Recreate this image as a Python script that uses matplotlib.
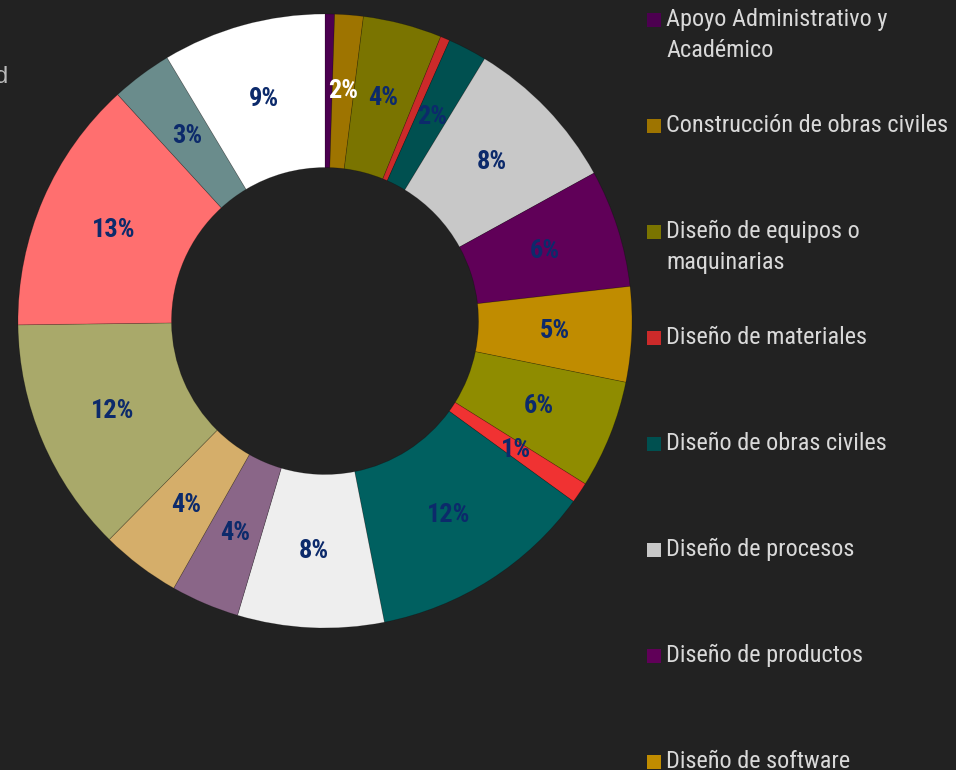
import matplotlib
matplotlib.use("Agg")
import matplotlib.pyplot as plt
from matplotlib.patches import Rectangle

BG = "#222222"
TXT = "#d9d9d9"
NAVY = "#0c2a6b"
NARROW = "Roboto Condensed"

# share of each slice (%), clockwise from 12 o'clock
shares = [0.5, 1.5, 4.15, 0.5, 2.05, 8.3, 6.2, 5.0, 5.7, 1.1,
          11.9, 7.7, 3.6, 4.2, 12.4, 13.4, 3.2, 8.6]
colors = ["#4c0050", "#9e7400", "#7a7400", "#cc2a2a", "#005050", "#c8c8c8",
          "#600058", "#c08c00", "#8f8c00", "#f03232", "#006060", "#eeeeee",
          "#8a6688", "#d5ae6a", "#a9a96a", "#ff6f6f", "#6a8c8c", "#ffffff"]
# only the first legend entries are visible in the frame
legend_labels = ["Apoyo Administrativo y\nAcadémico",
                 "Construcción de obras civiles",
                 "Diseño de equipos o\nmaquinarias",
                 "Diseño de materiales",
                 "Diseño de obras civiles",
                 "Diseño de procesos",
                 "Diseño de productos",
                 "Diseño de software"]

W, H = 956, 770
fig = plt.figure(figsize=(W / 100, H / 100), dpi=100, facecolor=BG)

cx, cy, R = 325, 449, 307  # centre in px from bottom-left, outer radius
ax = fig.add_axes([(cx - R) / W, (cy - R) / H, 2 * R / W, 2 * R / H])
ax.set_facecolor(BG)

wedges, _, autotexts = ax.pie(
    shares, colors=colors, startangle=90, counterclock=False,
    radius=1.0, pctdistance=0.75,
    autopct=lambda p: f"{p:.0f}%" if p >= 1 else "",
    wedgeprops=dict(width=0.5, linewidth=0.5, edgecolor=(0, 0, 0, 0.25)),
    textprops=dict(fontsize=19, fontweight="bold", family=NARROW, color=NAVY))
autotexts[1].set_color("white")
ax.set_xlim(-1, 1)
ax.set_ylim(-1, 1)
ax.axis("off")

# legend, Excel style: fixed row pitch, square beside first line
x_sq, x_txt = 647, 666
top, step = 20, 106
for i, lab in enumerate(legend_labels):
    yc = top + i * step
    fig.patches.append(Rectangle((x_sq / W, 1 - (yc + 7) / H), 14 / W, 14 / H,
                                 transform=fig.transFigure,
                                 facecolor=colors[i], edgecolor="none"))
    fig.text(x_txt / W, 1 - (yc - 12) / H, lab, ha="left", va="top",
             fontsize=17.5, family=NARROW, color=TXT, linespacing=1.42)

# tail of a title cut by the left edge
fig.text(8 / W, 1 - 77 / H, "d", ha="right", va="center",
         fontsize=17, family="Liberation Sans", color="#bbbbbb")

fig.savefig("out.png", dpi=100, facecolor=BG)
